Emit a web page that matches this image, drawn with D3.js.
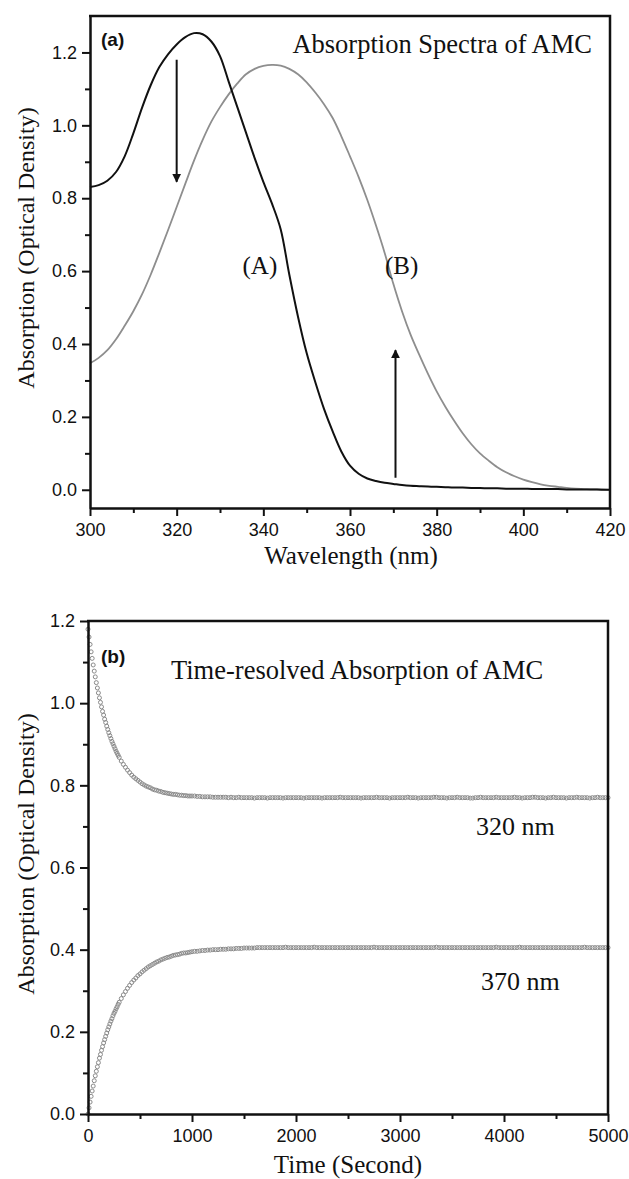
<!DOCTYPE html>
<html>
<head>
<meta charset="utf-8">
<script src="https://cdn.jsdelivr.net/npm/d3@7"></script>
<style>
    body { margin: 0; background: #fff; }
    svg { display: block; }
    .tick text { font-family: "Liberation Sans", Arial, sans-serif; font-size: 18px; fill: #111; }
    .axis path, .axis line { stroke: #111; stroke-width: 2; }
    .serif { font-family: "Liberation Serif", "Times New Roman", serif; fill: #111; }
    .panel-tag { font-family: "Liberation Sans", Arial, sans-serif; font-weight: bold; font-size: 19px; fill: #111; }
</style>
</head>
<body>
<svg width="629" height="1179"></svg>
<script>

// (a) absorption spectra
var wavelength = [300,302,304,306,308,310,312,314,316,318,320,322,324,326,328,330,332,334,336,338,
    340,342,344,346,348,350,352,354,356,358,360,362,364,366,368,370,372,374,376,378,
    380,382,384,386,388,390,392,394,396,398,400,402,404,406,408,410,412,414,416,418,420];

var absA = [0.831,0.836,0.848,0.872,0.915,0.978,1.048,1.110,1.160,1.195,1.222,1.242,1.253,1.250,1.230,1.190,1.120,1.050,0.980,0.910,
    0.845,0.785,0.715,0.590,0.475,0.375,0.295,0.222,0.160,0.105,0.066,0.044,0.031,0.024,0.019,0.016,0.013,0.011,0.010,0.009,
    0.008,0.007,0.006,0.006,0.005,0.005,0.004,0.004,0.003,0.003,0.003,0.002,0.002,0.002,0.002,0.001,0.001,0.001,0.001,0.000,0.000];

var absB = [0.347,0.362,0.383,0.413,0.450,0.490,0.536,0.590,0.650,0.712,0.776,0.840,0.903,0.960,1.010,1.050,1.085,1.115,1.140,1.155,
    1.163,1.166,1.164,1.155,1.140,1.118,1.090,1.058,1.020,0.970,0.915,0.858,0.795,0.725,0.650,0.565,0.490,0.425,0.370,0.318,
    0.270,0.228,0.190,0.155,0.125,0.100,0.080,0.062,0.048,0.037,0.028,0.021,0.015,0.011,0.008,0.005,0.003,0.002,0.001,0.001,0.000];

var spectraLabels = [
    {text: "(A)", wl: 339.2, od: 0.592},
    {text: "(B)", wl: 371.9, od: 0.592}
];

// arrows: wavelength, start value, end value
var arrows = [
    {wl: 320, from: 1.18, to: 0.845},
    {wl: 370.5, from: 0.033, to: 0.383}
];

// (b) time resolved absorption
var timeSec = [0,10,20,30,40,50,60,70,80,90,100,110,120,130,140,150,160,170,180,190,200,210,220,230,240,250,260,270,280,290,300,
    320,340,360,380,400,420,440,460,480,500,520,540,560,580,600,620,640,660,680,700,
    720,740,760,780,800,820,840,860,880,900,920,940,960,980,1000,
    1025,1050,1075,1100,1125,1150,1175,1200,1225,1250,1275,1300,1325,1350,1375,1400,1425,1450,1475,1500,
    1525,1550,1575,1600,1625,1650,1675,1700,1725,1750,1775,1800,1825,1850,1875,1900,1925,1950,1975,2000,
    2025,2050,2075,2100,2125,2150,2175,2200,2225,2250,2275,2300,2325,2350,2375,2400,2425,2450,2475,2500,
    2525,2550,2575,2600,2625,2650,2675,2700,2725,2750,2775,2800,2825,2850,2875,2900,2925,2950,2975,3000,
    3025,3050,3075,3100,3125,3150,3175,3200,3225,3250,3275,3300,3325,3350,3375,3400,3425,3450,3475,3500,
    3525,3550,3575,3600,3625,3650,3675,3700,3725,3750,3775,3800,3825,3850,3875,3900,3925,3950,3975,4000,
    4025,4050,4075,4100,4125,4150,4175,4200,4225,4250,4275,4300,4325,4350,4375,4400,4425,4450,4475,4500,
    4525,4550,4575,4600,4625,4650,4675,4700,4725,4750,4775,4800,4825,4850,4875,4900,4925,4950,4975,5000];

var od320 = [1.180,1.161,1.143,1.125,1.109,1.093,1.078,1.064,1.050,1.037,1.025,1.013,1.002,0.991,0.980,0.971,0.961,0.953,0.944,0.936,
    0.928,0.921,0.914,0.907,0.901,0.895,0.889,0.883,0.878,0.873,0.868,
    0.859,0.851,0.844,0.837,0.831,0.825,0.820,0.816,0.812,0.808,0.804,0.801,0.798,0.796,0.794,0.791,0.789,0.788,0.786,0.785,
    0.783,0.782,0.781,0.780,0.779,0.778,0.778,0.777,0.776,0.776,0.775,0.775,0.774,0.774,0.774,
    0.774,0.773,0.773,0.772,0.772,0.772,0.772,0.771,0.771,0.771,0.771,0.771,0.771,0.770,0.771,0.770,0.770,0.771,0.770,0.770,
    0.770,0.770,0.770,0.769,0.770,0.770,0.770,0.770,0.769,0.770,0.770,0.770,0.770,0.770,0.769,0.770,0.770,0.770,0.770,0.770,
    0.770,0.770,0.769,0.770,0.770,0.770,0.770,0.770,0.770,0.769,0.770,0.770,0.770,0.770,0.770,0.770,0.771,0.770,0.770,0.770,
    0.770,0.770,0.770,0.770,0.769,0.770,0.770,0.770,0.770,0.770,0.771,0.770,0.770,0.770,0.770,0.769,0.770,0.770,0.770,0.770,
    0.770,0.770,0.771,0.770,0.770,0.770,0.769,0.770,0.770,0.770,0.770,0.770,0.771,0.771,0.770,0.770,0.770,0.769,0.770,0.770,
    0.770,0.771,0.770,0.770,0.770,0.770,0.769,0.769,0.770,0.770,0.771,0.770,0.770,0.770,0.770,0.770,0.771,0.770,0.770,0.770,
    0.770,0.770,0.770,0.771,0.770,0.770,0.769,0.770,0.770,0.770,0.771,0.771,0.770,0.770,0.770,0.769,0.770,0.770,0.771,0.770,
    0.770,0.770,0.770,0.769,0.770,0.770,0.770,0.771,0.770,0.770,0.770,0.770,0.769,0.770,0.770,0.771,0.770,0.770,0.770,0.770];

var od370 = [0.000,0.015,0.029,0.043,0.056,0.068,0.081,0.093,0.104,0.115,0.125,0.136,0.145,0.155,0.164,0.173,0.181,0.189,0.197,0.205,
    0.212,0.219,0.226,0.232,0.239,0.245,0.250,0.256,0.261,0.267,0.272,
    0.281,0.290,0.298,0.306,0.313,0.320,0.326,0.331,0.337,0.341,0.346,0.350,0.354,0.358,0.361,0.364,0.367,0.370,0.372,0.375,
    0.377,0.379,0.381,0.382,0.384,0.386,0.387,0.388,0.389,0.391,0.392,0.392,0.393,0.394,0.395,
    0.396,0.396,0.397,0.398,0.398,0.399,0.399,0.400,0.400,0.400,0.401,0.401,0.401,0.402,0.402,0.402,0.403,0.403,0.403,0.404,
    0.404,0.404,0.404,0.404,0.405,0.405,0.405,0.405,0.405,0.405,0.405,0.405,0.405,0.405,0.405,0.406,0.405,0.405,0.405,0.405,
    0.405,0.405,0.405,0.405,0.405,0.405,0.406,0.405,0.405,0.405,0.405,0.405,0.405,0.405,0.405,0.405,0.405,0.405,0.405,0.405,
    0.405,0.405,0.405,0.405,0.405,0.405,0.405,0.405,0.405,0.406,0.405,0.405,0.405,0.405,0.405,0.405,0.405,0.405,0.405,0.405,
    0.405,0.405,0.405,0.405,0.405,0.405,0.405,0.405,0.405,0.405,0.405,0.405,0.405,0.406,0.405,0.405,0.405,0.405,0.405,0.405,
    0.405,0.405,0.405,0.405,0.405,0.405,0.405,0.405,0.405,0.405,0.405,0.405,0.405,0.405,0.405,0.405,0.406,0.405,0.405,0.405,
    0.405,0.405,0.405,0.405,0.405,0.406,0.405,0.405,0.405,0.405,0.405,0.405,0.405,0.405,0.405,0.405,0.405,0.405,0.405,0.405,
    0.405,0.405,0.405,0.405,0.405,0.405,0.405,0.405,0.405,0.405,0.406,0.405,0.405,0.405,0.405,0.405,0.405,0.405,0.405,0.405];

var timeLabels = [
    {text: "320 nm", t: 3731, od: 0.678},
    {text: "370 nm", t: 3779, od: 0.302}
];

var yMajor = [0, 0.2, 0.4, 0.6, 0.8, 1.0, 1.2];
var yMinor = [0.1, 0.3, 0.5, 0.7, 0.9, 1.1];
var wlMajor = [300, 320, 340, 360, 380, 400, 420];
var wlMinor = [310, 330, 350, 370, 390, 410];
var tMajor = [0, 1000, 2000, 3000, 4000, 5000];
var tMinor = [500, 1500, 2500, 3500, 4500];


var svg = d3.select('svg');

svg.append('defs').append('marker')
    .attr('id', 'head')
    .attr('viewBox', '0 0 10 10')
    .attr('refX', 9)
    .attr('refY', 5)
    .attr('markerUnits', 'userSpaceOnUse')
    .attr('markerWidth', 9)
    .attr('markerHeight', 13)
    .attr('orient', 'auto')
    .append('path')
    .attr('d', 'M0,0 L10,5 L0,10 Z')
    .attr('fill', '#111');

function drawAxes(g, x, y, xMajor, xMinor, xFmt) {
    var left = x.range()[0], right = x.range()[1];
    var bottom = y.range()[0], top = y.range()[1];

    g.append('g').attr('class', 'axis')
        .attr('transform', 'translate(0,' + bottom + ')')
        .call(d3.axisBottom(x).tickValues(xMinor).tickSize(5).tickSizeOuter(0).tickFormat(''));
    g.append('g').attr('class', 'axis')
        .attr('transform', 'translate(0,' + bottom + ')')
        .call(d3.axisBottom(x).tickValues(xMajor).tickSize(8).tickSizeOuter(0).tickPadding(7).tickFormat(xFmt));

    g.append('g').attr('class', 'axis')
        .attr('transform', 'translate(' + left + ',0)')
        .call(d3.axisLeft(y).tickValues(yMinor).tickSize(5).tickSizeOuter(0).tickFormat(''));
    g.append('g').attr('class', 'axis')
        .attr('transform', 'translate(' + left + ',0)')
        .call(d3.axisLeft(y).tickValues(yMajor).tickSize(8).tickSizeOuter(0).tickPadding(5).tickFormat(d3.format('.1f')));

    // top and right frame
    g.append('path')
        .attr('d', 'M' + (left - 1) + ',' + top + 'H' + right + 'V' + bottom)
        .attr('fill', 'none')
        .attr('stroke', '#111')
        .attr('stroke-width', 2.5);
}

function yTitle(g, cx, cy, text) {
    g.append('text')
        .attr('class', 'serif')
        .attr('transform', 'translate(' + cx + ',' + cy + ') rotate(-90)')
        .attr('text-anchor', 'middle')
        .style('font-size', '24px')
        .text(text);
}

// ---------- panel (a) ----------
var xa = d3.scaleLinear().domain([300, 420]).range([90, 610]);
var ya = d3.scaleLinear().domain([-0.05, 1.3]).range([508, 16]);
var ga = svg.append('g');

var lineA = d3.line()
    .x(function(d, i) { return xa(wavelength[i]); })
    .y(function(d) { return ya(d); })
    .curve(d3.curveCatmullRom.alpha(0.5));

ga.append('path').datum(absB)
    .attr('d', lineA)
    .attr('fill', 'none')
    .attr('stroke', '#8e8e8e')
    .attr('stroke-width', 1.8);

ga.append('path').datum(absA)
    .attr('d', lineA)
    .attr('fill', 'none')
    .attr('stroke', '#111')
    .attr('stroke-width', 2);

drawAxes(ga, xa, ya, wlMajor, wlMinor, d3.format('d'));

ga.selectAll('line.arrow')
    .data(arrows)
    .enter()
    .append('line')
    .attr('class', 'arrow')
    .attr('x1', function(d) { return xa(d.wl); })
    .attr('x2', function(d) { return xa(d.wl); })
    .attr('y1', function(d) { return ya(d.from); })
    .attr('y2', function(d) { return ya(d.to); })
    .attr('stroke', '#111')
    .attr('stroke-width', 2)
    .attr('marker-end', 'url(#head)');

ga.selectAll('text.curve-label')
    .data(spectraLabels)
    .enter()
    .append('text')
    .attr('class', 'serif curve-label')
    .attr('x', function(d) { return xa(d.wl); })
    .attr('y', function(d) { return ya(d.od); })
    .attr('text-anchor', 'middle')
    .style('font-size', '25px')
    .text(function(d) { return d.text; });

ga.append('text').attr('class', 'panel-tag').attr('x', 101).attr('y', 46).text('(a)');
ga.append('text').attr('class', 'serif')
    .attr('x', 592).attr('y', 53)
    .attr('text-anchor', 'end')
    .style('font-size', '26.5px')
    .text('Absorption Spectra of AMC');

yTitle(ga, 34, 248, 'Absorption (Optical Density)');
ga.append('text').attr('class', 'serif')
    .attr('x', 351).attr('y', 564)
    .attr('text-anchor', 'middle')
    .style('font-size', '25px')
    .text('Wavelength (nm)');

// ---------- panel (b) ----------
var xb = d3.scaleLinear().domain([0, 5000]).range([88, 608]);
var yb = d3.scaleLinear().domain([0, 1.2]).range([1114, 621]);
var gb = svg.append('g');

[od320, od370].forEach(function(series) {
    gb.append('g')
        .selectAll('circle')
        .data(series)
        .enter()
        .append('circle')
        .attr('cx', function(d, i) { return xb(timeSec[i]); })
        .attr('cy', function(d) { return yb(d); })
        .attr('r', 2)
        .attr('fill', 'none')
        .attr('stroke', '#8a8a8a')
        .attr('stroke-width', 1);
});

drawAxes(gb, xb, yb, tMajor, tMinor, d3.format('d'));

gb.selectAll('text.curve-label')
    .data(timeLabels)
    .enter()
    .append('text')
    .attr('class', 'serif curve-label')
    .attr('x', function(d) { return xb(d.t); })
    .attr('y', function(d) { return yb(d.od); })
    .style('font-size', '26px')
    .text(function(d) { return d.text; });

gb.append('text').attr('class', 'panel-tag').attr('x', 101).attr('y', 663).text('(b)');
gb.append('text').attr('class', 'serif')
    .attr('x', 171).attr('y', 679)
    .style('font-size', '26.5px')
    .text('Time-resolved Absorption of AMC');

yTitle(gb, 34, 854, 'Absorption (Optical Density)');
gb.append('text').attr('class', 'serif')
    .attr('x', 348).attr('y', 1173)
    .attr('text-anchor', 'middle')
    .style('font-size', '25px')
    .text('Time (Second)');

</script>
</body>
</html>
